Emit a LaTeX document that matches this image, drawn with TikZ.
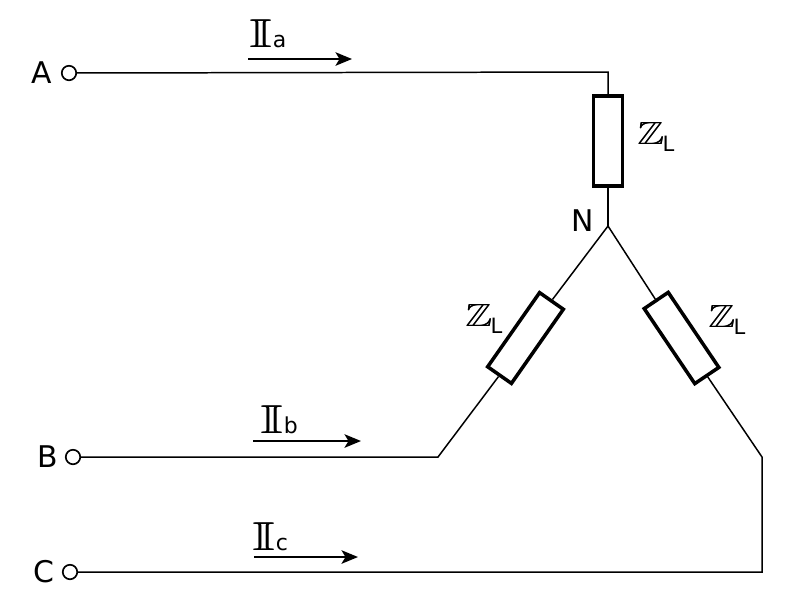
\documentclass[tikz,border=0pt]{standalone}
\usepackage{amsmath, amssymb}
\usepackage{fontspec}
\setmainfont{DejaVu Sans}
\usepackage{tikz}
\usetikzlibrary{arrows.meta, positioning}

\tikzset{
    wire/.style={line width=0.85pt},
    load/.style={draw, line width=2pt, fill=white, rectangle, minimum width=0.58cm, minimum height=1.81cm, inner sep=0pt},
    terminal/.style={draw, circle, line width=0.95pt, minimum size=0.29cm, inner sep=0pt},
    phase/.style={font=\fontsize{17}{17}\selectfont, inner sep=0pt},
    flow/.style={line width=1.1pt, -{Stealth[length=0.33cm, width=0.27cm, inset=0.08cm]}},
    implabel/.style={font=\fontsize{12}{12}\selectfont, inner sep=0pt, anchor=base west},
    curlabel/.style={font=\fontsize{12.5}{12.5}\selectfont, inner sep=0pt, anchor=base west}
}

\newcommand{\ImpL}{\scalebox{1.1}[0.88]{\fontsize{20.74}{21}\selectfont\rlap{$\mathbb{Z}$}\kern0.2pt$\mathbb{Z}$}\kern-1pt\raisebox{-4pt}{L}}
\newcommand{\CurX}[1]{\scalebox{1.3}[0.92]{\fontsize{24.88}{25}\selectfont\rlap{$\mathbb{I}$}\kern0.6pt$\mathbb{I}$}\raisebox{-0.5pt}{#1}}

\begin{document}
\begin{tikzpicture}[x=0.02cm, y=-0.02cm]
    \useasboundingbox (0,0) rectangle (800,600);

    \node[terminal] (TA) at (69,73) {};
    \node[terminal] (TB) at (73,457) {};
    \node[terminal] (TC) at (70,572) {};

    \node[phase, left=0.18cm of TA] (A) {A};
    \node[phase, left=0.14cm of TB] (B) {B};
    \node[phase, left=0.14cm of TC] (C) {C};

    \coordinate (N) at (608,226);
    \coordinate (KA) at (608,72);
    \coordinate (KB) at (438,457);
    \coordinate (KC1) at (762,457);
    \coordinate (KC2) at (762,572);

    \node[load] (Z1) at (608,141) {};
    \node[load, rotate=-35] (Z2) at (525.5,338) {};
    \node[load, rotate=34] (Z3) at (681.5,338) {};

    \draw[wire] (TA) -- (KA) -- (Z1.north);
    \draw[wire] (Z1.south) -- (N);
    \draw[wire] (N) -- (Z2.north);
    \draw[wire] (Z2.south) -- (KB) -- (TB);
    \draw[wire] (N) -- (Z3.north);
    \draw[wire] (Z3.south) -- (KC1) -- (KC2) -- (TC);

    \node[phase] (NL) at (583,221) {N};

    \coordinate (FA1) at (248,59);
    \coordinate (FA2) at (352,59);
    \coordinate (FB1) at (253,441);
    \coordinate (FB2) at (361,441);
    \coordinate (FC1) at (254,557);
    \coordinate (FC2) at (358,557);

    \draw[flow] (FA1) -- (FA2);
    \draw[flow] (FB1) -- (FB2);
    \draw[flow] (FC1) -- (FC2);

    \node[curlabel] (IA) at (249,47) {\CurX{a}};
    \node[curlabel] (IB) at (260,433) {\CurX{b}};
    \node[curlabel] (IC) at (252,550) {\CurX{c}};

    \node[implabel] (LZ1) at (637,144) {\ImpL};
    \node[implabel] (LZ2) at (465,326) {\ImpL};
    \node[implabel] (LZ3) at (708,327) {\ImpL};
\end{tikzpicture}
\end{document}
